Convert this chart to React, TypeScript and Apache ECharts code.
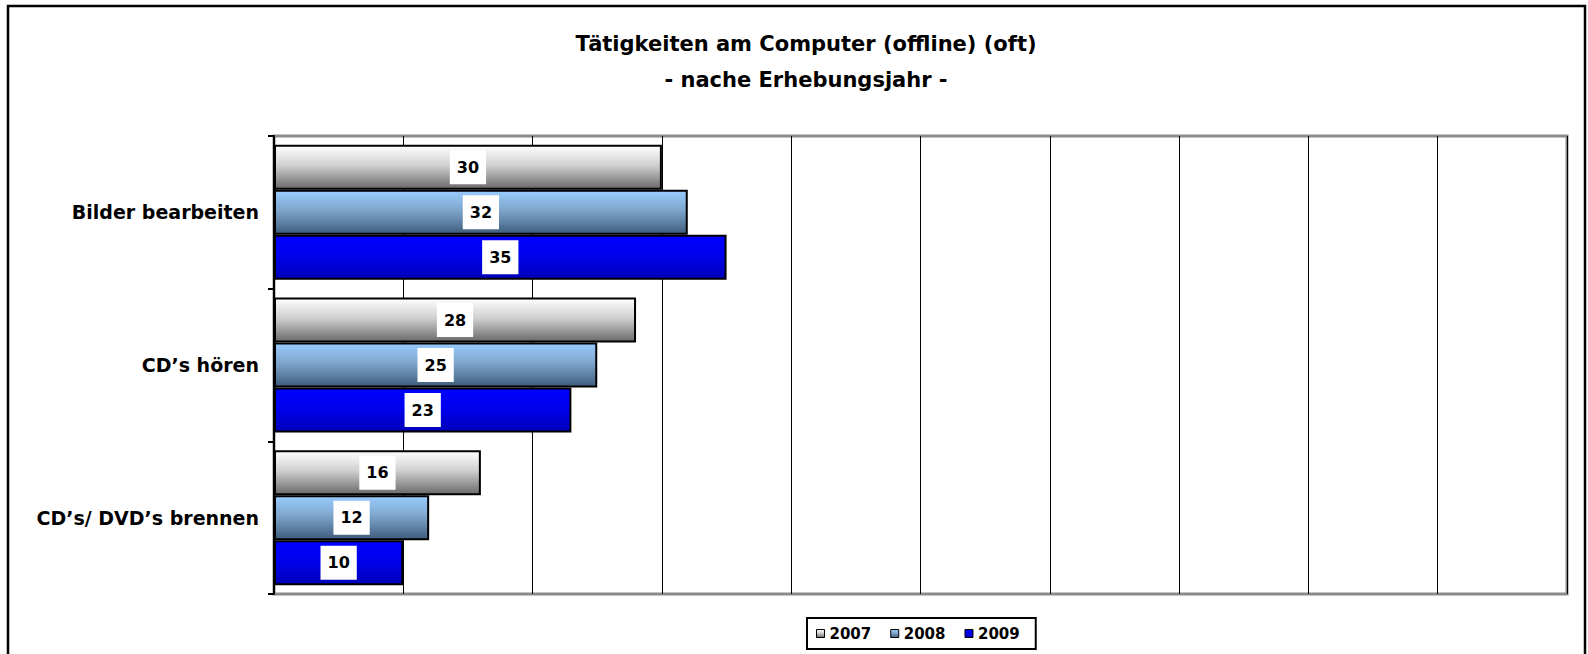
import React, { useEffect, useRef } from "react";
import * as echarts from "echarts";

const categories = ["Bilder bearbeiten", "CD\u2019s hören", "CD\u2019s/ DVD\u2019s brennen"];
const years = ["2007", "2008", "2009"];
const values2007 = [30, 28, 16];
const values2008 = [32, 25, 12];
const values2009 = [35, 23, 10];
const seriesValues = [values2007, values2008, values2009];

const gradients = [
  ["#ffffff", "#d0d0d0", "#6a6a6a"],
  ["#99ccff", "#7fa6cc", "#3f5d7c"],
  ["#0000ff", "#0000ee", "#0000b8"],
];

const FONT = "DejaVu Sans";

export default function App() {
  const ref = useRef<HTMLDivElement>(null);
  useEffect(() => {
    if (!ref.current) return;
    const chart = echarts.init(ref.current, undefined, { renderer: "svg" });
    const mkGrad = (c: string[]) =>
      new echarts.graphic.LinearGradient(0, 0, 0, 1, [
        { offset: 0, color: c[0] },
        { offset: 0.45, color: c[1] },
        { offset: 1, color: c[2] },
      ]);
    chart.setOption({
      animation: false,
      backgroundColor: "#ffffff",
      title: {
        text: "Tätigkeiten am Computer (offline) (oft)\n- nache Erhebungsjahr -",
        left: 806,
        top: 26,
        textAlign: "center",
        padding: 0,
        textStyle: {
          fontFamily: FONT,
          fontWeight: "bold",
          fontSize: 21,
          lineHeight: 36,
          color: "#000",
        },
      },
      legend: {
        left: 807,
        top: 618,
        orient: "horizontal",
        data: years.map((y, i) => ({
          name: y,
          icon: "rect",
          itemStyle: { color: mkGrad(gradients[i]), borderColor: "#000", borderWidth: 1 },
        })),
        itemWidth: 8,
        itemHeight: 8,
        itemGap: 19,
        padding: [8, 16, 8, 9],
        borderColor: "#000",
        borderWidth: 2,
        textStyle: { fontFamily: FONT, fontWeight: "bold", fontSize: 15, color: "#000" },
      },
      graphic: [
        {
          type: "rect",
          shape: { x: 8, y: 6, width: 1577, height: 700 },
          style: { fill: "none", stroke: "#000", lineWidth: 2.5 },
          silent: true,
          z: 100,
        },
      ],
      grid: {
        left: 274,
        right: 21,
        top: 136,
        bottom: 60,
        show: true,
        borderColor: "#8a8a8a",
        borderWidth: 3,
        backgroundColor: "transparent",
      },
      xAxis: {
        type: "value",
        min: 0,
        max: 100,
        interval: 10,
        axisLabel: { show: false },
        axisTick: { show: false },
        axisLine: { show: false },
        splitLine: { show: true, lineStyle: { color: "#000", width: 1 } },
      },
      yAxis: {
        type: "category",
        inverse: true,
        data: categories,
        axisLine: { show: true, lineStyle: { color: "#000", width: 2 } },
        axisTick: { show: true, length: 6, inside: false, lineStyle: { color: "#000", width: 2 } },
        axisLabel: {
          fontFamily: FONT,
          fontWeight: "bold",
          fontSize: 19,
          color: "#000",
          margin: 15,
          padding: [11, 0, 0, 0],
        },
        splitLine: { show: false },
      },
      series: years.map((y, i) => ({
        name: y,
        type: "bar",
        data: seriesValues[i],
        barWidth: 45,
        barGap: "0%",
        itemStyle: { color: mkGrad(gradients[i]), borderColor: "#000", borderWidth: 2 },
        label: {
          show: true,
          position: "inside",
          backgroundColor: "#fff",
          color: "#000",
          fontFamily: FONT,
          fontWeight: "bold",
          fontSize: 16,
          padding: [9, 7, 9, 7],
        },
      })),
    });
    return () => chart.dispose();
  }, []);
  return (
    <div
      ref={ref}
      style={{ position: "fixed", left: 0, top: 0, width: 1588, height: 654 }}
    />
  );
}
